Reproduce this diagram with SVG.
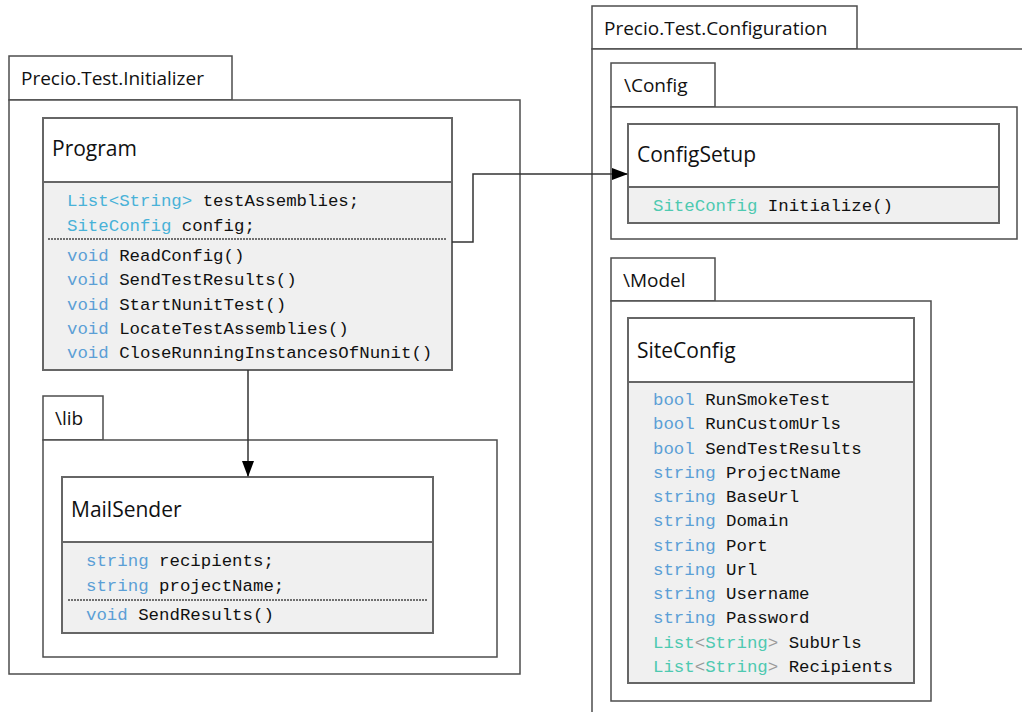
<svg xmlns="http://www.w3.org/2000/svg" width="1022" height="712" viewBox="0 0 1022 712">
<defs>
<marker id="arr" markerWidth="16" markerHeight="12" refX="15" refY="6" orient="auto" markerUnits="userSpaceOnUse">
<path d="M0,0 L16,6 L0,12 Z" fill="#000"/>
</marker>
<style>
.pkg{fill:#fff;stroke:#4d4d4d;stroke-width:1.5}
.cls{fill:#fff;stroke:#666;stroke-width:2}
.cmp{fill:#f0f0f0;stroke:#666;stroke-width:2}
.dot{stroke:#444;stroke-width:1.5;stroke-dasharray:2,1}
.plbl{font-family:"Open Sans","Liberation Sans",sans-serif;font-size:19px;fill:#111}
.ttl{font-family:"Open Sans","Liberation Sans",sans-serif;font-size:21px;fill:#111}
.code{font-family:"Liberation Mono","DejaVu Sans Mono",monospace;font-size:17.4px;fill:#111}
.kw{fill:#5b9fd6}
.ty{fill:#49b2d8}
.tl{fill:#4ec9b0}
.br{fill:#9a9a9a}
.conn{fill:none;stroke:#333;stroke-width:1.5}
</style>
</defs>
<rect width="1022" height="712" fill="#fff"/>

<g id="pkg-initializer">
<rect class="pkg" x="9" y="56" width="223" height="44"/>
<rect class="pkg" x="9" y="100" width="511" height="574"/>
<text class="plbl" x="21" y="85">Precio.Test.Initializer</text>
</g>

<g id="pkg-lib">
<rect class="pkg" x="43" y="396" width="60" height="44"/>
<rect class="pkg" x="43" y="440" width="454" height="217"/>
<text class="plbl" x="55" y="425">\lib</text>
</g>

<g id="pkg-configuration">
<rect class="pkg" x="592" y="6" width="265" height="43"/>
<path class="pkg" d="M1023,49 H592 V713" fill="none"/>
<text class="plbl" x="604" y="35">Precio.Test.Configuration</text>
</g>

<g id="pkg-config">
<rect class="pkg" x="611" y="63" width="104" height="44"/>
<rect class="pkg" x="611" y="107" width="406" height="132"/>
<text class="plbl" x="624" y="92">\Config</text>
</g>

<g id="pkg-model">
<rect class="pkg" x="611" y="258" width="104" height="43"/>
<rect class="pkg" x="611" y="301" width="320" height="400"/>
<text class="plbl" x="623" y="287">\Model</text>
</g>

<g id="Program">
<rect class="cls" x="43" y="118" width="409" height="64"/>
<rect class="cmp" x="43" y="182" width="409" height="188"/>
<text class="ttl" x="52" y="156">Program</text>
<text class="code" x="67" y="206"><tspan class="ty">List&lt;String&gt;</tspan> testAssemblies;</text>
<text class="code" x="67" y="231"><tspan class="ty">SiteConfig</tspan> config;</text>
<line class="dot" x1="48" y1="239" x2="446" y2="239"/>
<text class="code" x="67" y="261"><tspan class="kw">void</tspan> ReadConfig()</text>
<text class="code" x="67" y="285"><tspan class="kw">void</tspan> SendTestResults()</text>
<text class="code" x="67" y="310"><tspan class="kw">void</tspan> StartNunitTest()</text>
<text class="code" x="67" y="334"><tspan class="kw">void</tspan> LocateTestAssemblies()</text>
<text class="code" x="67" y="358"><tspan class="kw">void</tspan> CloseRunningInstancesOfNunit()</text>
</g>

<g id="MailSender">
<rect class="cls" x="62" y="477" width="371" height="65"/>
<rect class="cmp" x="62" y="542" width="371" height="91"/>
<text class="ttl" x="71" y="517">MailSender</text>
<text class="code" x="86" y="566"><tspan class="kw">string</tspan> recipients;</text>
<text class="code" x="86" y="591"><tspan class="kw">string</tspan> projectName;</text>
<line class="dot" x1="68" y1="600" x2="428" y2="600"/>
<text class="code" x="86" y="620"><tspan class="kw">void</tspan> SendResults()</text>
</g>

<g id="ConfigSetup">
<rect class="cls" x="628" y="124" width="371" height="63"/>
<rect class="cmp" x="628" y="187" width="371" height="36"/>
<text class="ttl" x="637" y="162">ConfigSetup</text>
<text class="code" x="653" y="211"><tspan class="tl">SiteConfig</tspan> Initialize()</text>
</g>

<g id="SiteConfig">
<rect class="cls" x="628" y="318" width="286" height="64"/>
<rect class="cmp" x="628" y="382" width="286" height="301"/>
<text class="ttl" x="637" y="358">SiteConfig</text>
<text class="code" x="653" y="405"><tspan class="kw">bool</tspan> RunSmokeTest</text>
<text class="code" x="653" y="429"><tspan class="kw">bool</tspan> RunCustomUrls</text>
<text class="code" x="653" y="454"><tspan class="kw">bool</tspan> SendTestResults</text>
<text class="code" x="653" y="478"><tspan class="kw">string</tspan> ProjectName</text>
<text class="code" x="653" y="502"><tspan class="kw">string</tspan> BaseUrl</text>
<text class="code" x="653" y="526"><tspan class="kw">string</tspan> Domain</text>
<text class="code" x="653" y="551"><tspan class="kw">string</tspan> Port</text>
<text class="code" x="653" y="575"><tspan class="kw">string</tspan> Url</text>
<text class="code" x="653" y="599"><tspan class="kw">string</tspan> Username</text>
<text class="code" x="653" y="623"><tspan class="kw">string</tspan> Password</text>
<text class="code" x="653" y="648"><tspan class="tl">List</tspan><tspan class="br">&lt;</tspan><tspan class="tl">String</tspan><tspan class="br">&gt;</tspan> SubUrls</text>
<text class="code" x="653" y="672"><tspan class="tl">List</tspan><tspan class="br">&lt;</tspan><tspan class="tl">String</tspan><tspan class="br">&gt;</tspan> Recipients</text>
</g>

<g id="connectors">
<path class="conn" d="M452,242 H473 V174 H627" marker-end="url(#arr)"/>
<path class="conn" d="M248,370 V476" marker-end="url(#arr)"/>
</g>
</svg>
